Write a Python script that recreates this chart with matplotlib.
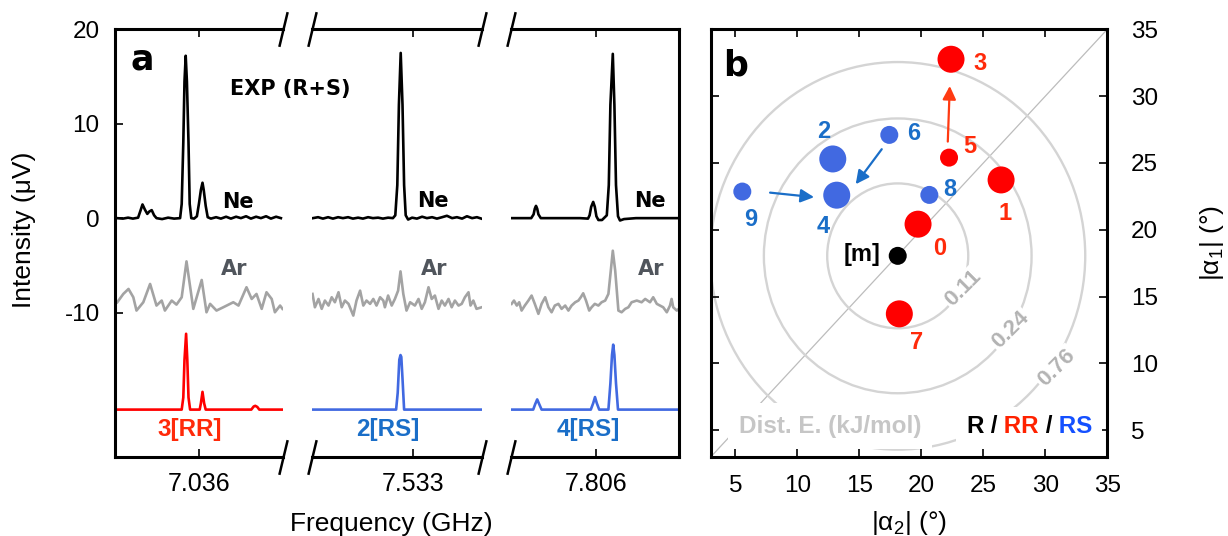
import numpy as np
import matplotlib.pyplot as plt
from matplotlib.patches import Ellipse, Rectangle

plt.rcParams['font.family'] = ['Liberation Sans', 'DejaVu Sans']
plt.rcParams['axes.unicode_minus'] = False
plt.rcParams['mathtext.fontset'] = 'custom'
plt.rcParams['mathtext.rm'] = 'Liberation Sans'
plt.rcParams['mathtext.it'] = 'Liberation Sans:italic'

# ---- panel a data: x is MHz away from the labelled tick of each window ----
seg_ticks = ['7.036', '7.533', '7.806']

ne_x1 = [-2.06, -1.91, -1.78, -1.66, -1.53, -1.47, -1.42, -1.36, -1.30, -1.25, -1.19, -1.13,
         -1.07, -0.93, -0.78, -0.63, -0.48, -0.44, -0.40, -0.37, -0.34, -0.31, -0.27, -0.24,
         -0.20, -0.13, -0.06, -0.01, 0.04, 0.08, 0.11, 0.16, 0.21, 0.29, 0.42, 0.54, 0.67,
         0.79, 0.92, 1.04, 1.17, 1.29, 1.42, 1.54, 1.67, 1.79, 1.92, 2.04]
ne_y1 = [0.0, -0.05, 0.05, -0.05, 0.05, 0.8, 1.45, 0.9, 0.45, 0.7, 0.85, 0.3,
         0.0, -0.1, 0.05, -0.05, 0.0, 1.5, 8.0, 14.5, 17.2, 14.5, 8.0, 1.5,
         0.0, -0.05, 0.2, 1.5, 3.0, 3.75, 3.0, 1.3, 0.1, -0.05, 0.1, -0.05, 0.15,
         -0.05, 0.15, 0.0, 0.2, -0.05, 0.15, 0.0, 0.2, -0.05, 0.15, 0.0]
ne_x2 = [-2.51, -2.38, -2.26, -2.13, -2.01, -1.88, -1.76, -1.63, -1.51, -1.38, -1.26, -1.13,
         -1.01, -0.88, -0.76, -0.63, -0.51, -0.45, -0.40, -0.36, -0.315, -0.27, -0.23, -0.19,
         -0.13, -0.03, 0.09, 0.22, 0.34, 0.47, 0.59, 0.72, 0.84, 0.97, 1.09, 1.22, 1.34,
         1.47, 1.59, 1.70]
ne_y2 = [0.0, 0.1, -0.05, 0.1, -0.05, 0.1, 0.0, 0.1, -0.05, 0.05, -0.05, 0.1,
         0.0, 0.05, -0.05, 0.05, 0.0, 0.3, 3.5, 12.0, 17.5, 12.0, 3.5, 0.3,
         -0.15, 0.05, -0.05, 0.15, 0.0, 0.1, -0.05, 0.1, 0.25, 0.0, 0.1, -0.05, 0.2,
         0.0, 0.1, -0.05]
ne_x3 = [-2.12, -1.80, -1.62, -1.56, -1.53, -1.50, -1.47, -1.44, -1.38, -0.40, -0.20, -0.16,
         -0.12, -0.07, -0.03, 0.01, 0.06, 0.15, 0.27, 0.32, 0.36, 0.42, 0.46, 0.50, 0.55,
         0.60, 0.70, 1.00, 2.07]
ne_y3 = [0.0, 0.0, 0.0, 0.4, 1.0, 1.3, 1.0, 0.4, 0.0, 0.0, -0.05, 0.3,
         1.2, 1.72, 1.2, 0.2, -0.2, -0.2, 0.3, 3.5, 12.0, 17.4, 12.0, 3.5, 0.2,
         -0.25, -0.1, 0.0, 0.0]

ar_x1 = [-2.05, -1.90, -1.77, -1.65, -1.57, -1.40, -1.23, -1.07, -0.94, -0.86, -0.69, -0.57,
         -0.44, -0.32, -0.15, 0.06, 0.18, 0.27, 0.43, 0.60, 0.85, 0.98, 1.18, 1.31, 1.43,
         1.56, 1.68, 1.81, 1.89, 2.02, 2.08]
ar_y1 = [-8.91, -8.03, -7.50, -8.38, -9.79, -8.91, -6.97, -9.26, -8.73, -9.79, -8.73, -9.16,
         -8.38, -4.58, -9.61, -6.55, -9.97, -9.08, -9.79, -9.44, -8.91, -9.26, -7.32, -8.56,
         -8.03, -9.61, -7.85, -8.56, -9.97, -9.26, -9.61]
ar_x2 = [-2.52, -2.46, -2.37, -2.29, -2.21, -2.12, -2.04, -1.96, -1.87, -1.79, -1.71, -1.62,
         -1.50, -1.42, -1.33, -1.25, -1.17, -1.08, -1.00, -0.92, -0.83, -0.75, -0.71, -0.63,
         -0.54, -0.46, -0.38, -0.32, -0.25, -0.17, -0.08, 0.04, 0.13, 0.21, 0.29, 0.38,
         0.46, 0.54, 0.63, 0.71, 0.79, 0.88, 0.96, 1.04, 1.13, 1.21, 1.29, 1.38, 1.43,
         1.50, 1.58, 1.71]
ar_y2 = [-8.03, -9.44, -8.56, -9.61, -8.73, -9.26, -8.38, -8.91, -7.85, -9.44, -8.73, -9.08,
         -10.32, -8.73, -7.68, -9.26, -8.73, -9.08, -8.56, -9.26, -8.38, -8.73, -9.44, -8.20,
         -9.26, -8.56, -7.68, -5.64, -8.03, -9.79, -8.91, -9.26, -8.56, -9.61, -8.91, -7.32,
         -8.56, -8.20, -9.61, -8.73, -9.26, -8.56, -9.44, -8.73, -9.26, -9.08, -8.38, -7.85,
         -9.26, -8.73, -9.61, -9.44]
ar_x3 = [-2.11, -2.05, -1.98, -1.92, -1.86, -1.78, -1.69, -1.61, -1.53, -1.44, -1.36, -1.27,
         -1.19, -1.11, -1.03, -0.94, -0.86, -0.77, -0.69, -0.61, -0.52, -0.44, -0.38, -0.32,
         -0.25, -0.17, -0.11, -0.03, 0.06, 0.14, 0.23, 0.31, 0.37, 0.42, 0.48, 0.56, 0.64,
         0.73, 0.81, 0.89, 1.02, 1.14, 1.23, 1.35, 1.43, 1.52, 1.60, 1.68, 1.77, 1.85,
         1.89, 1.93, 2.02, 2.07]
ar_y3 = [-9.08, -8.73, -9.26, -8.91, -9.79, -9.26, -8.73, -8.20, -9.08, -10.14, -9.08, -8.38,
         -9.44, -9.97, -9.26, -9.08, -9.61, -9.26, -9.79, -9.26, -8.91, -8.73, -8.38, -7.96,
         -8.73, -9.79, -9.44, -9.08, -9.26, -8.91, -8.73, -8.03, -5.56, -3.45, -5.56, -9.79,
         -9.97, -9.61, -9.44, -8.91, -8.73, -8.91, -8.56, -8.91, -8.38, -9.08, -9.26, -9.44,
         -9.97, -9.26, -8.56, -9.44, -9.79, -9.61]

# simulated spectra (offset by -20.3 uV in the figure)
sim_x1 = [-2.07, -0.44, -0.40, -0.37, -0.33, -0.30, -0.27, -0.23, 0.01, 0.04, 0.08, 0.12,
          0.16, 1.30, 1.36, 1.40, 1.45, 1.50, 2.085]
sim_y1 = [-20.28, -20.28, -19.0, -15.0, -12.25, -15.0, -19.0, -20.28, -20.28, -19.6, -18.4,
          -19.6, -20.28, -20.28, -19.95, -19.88, -20.0, -20.28, -20.28]
sim_x2 = [-2.52, -0.43, -0.39, -0.35, -0.32, -0.30, -0.27, -0.23, 1.71]
sim_y2 = [-20.28, -20.28, -18.5, -15.0, -14.5, -14.7, -17.0, -20.28, -20.28]
sim_x3 = [-2.11, -1.57, -1.52, -1.47, -1.42, -1.36, -0.13, -0.07, -0.025, 0.02, 0.08, 0.31,
          0.36, 0.40, 0.43, 0.46, 0.50, 0.55, 2.075]
sim_y3 = [-20.28, -20.28, -19.7, -19.2, -19.7, -20.28, -20.28, -19.6, -18.95, -19.6, -20.28,
          -20.28, -17.5, -14.5, -13.4, -14.5, -17.5, -20.28, -20.28]
sim_names = ['3[RR]', '2[RS]', '4[RS]']

# ---- panel b data ----
rr_names = ['0', '1', '3', '5', '7']
rr_a2 = [19.73, 26.43, 22.39, 22.23, 18.22]
rr_a1 = [20.42, 23.73, 32.76, 25.40, 13.71]
rr_big = [True, True, True, False, True]
rs_names = ['2', '4', '6', '8', '9']
rs_a2 = [12.85, 13.17, 17.41, 20.64, 5.55]
rs_a1 = [25.30, 22.59, 27.10, 22.61, 22.86]
rs_big = [True, True, False, False, False]
m_a2, m_a1 = 18.09, 18.05
dist_levels = ['0.11', '0.24', '0.76']
dist_rx = [5.69, 10.8, 15.13]
dist_ry = [5.42, 10.28, 14.5]

RED = '#ff0000'
BLUE = '#4169e1'
RED_T = '#ff2a0a'
BLUE_T = '#1a6ec8'

fig = plt.figure(figsize=(12.28, 5.36), dpi=100)
bot, hgt = 0.1474, 0.7979

# ---------------- panel a ----------------
seg_pos = [(0.09365, 0.13656), (0.25383, 0.13844), (0.41588, 0.13705)]
seg_xlim = [(-2.1075, 2.085), (-2.54, 1.71), (-2.1325, 2.075)]
ne_x = [ne_x1, ne_x2, ne_x3]
ne_y = [ne_y1, ne_y2, ne_y3]
ar_x = [ar_x1, ar_x2, ar_x3]
ar_y = [ar_y1, ar_y2, ar_y3]
sim_x = [sim_x1, sim_x2, sim_x3]
sim_y = [sim_y1, sim_y2, sim_y3]
sim_col = [RED, BLUE, BLUE]
sim_tcol = [RED_T, BLUE_T, BLUE_T]

ne_lab = [(0.97, 1.72), (0.49, 1.83), (1.35, 1.83)]
ar_lab = [(0.88, -5.35), (0.53, -5.35), (1.39, -5.35)]
sim_lab = [-0.245, -0.63, -0.2]

axs = []
for i in range(3):
    l, w = seg_pos[i]
    ax = fig.add_axes([l, bot, w, hgt])
    axs.append(ax)
    ax.plot(ar_x[i], ar_y[i], color='#a3a3a3', lw=1.9, solid_joinstyle='round')
    ax.plot(ne_x[i], ne_y[i], color='black', lw=1.9, solid_joinstyle='round')
    ax.plot(sim_x[i], sim_y[i], color=sim_col[i], lw=1.9, solid_joinstyle='round')
    ax.set_xlim(seg_xlim[i])
    ax.set_ylim(-25.3, 20)
    ax.set_xticks([0])
    ax.set_xticklabels([seg_ticks[i]])
    ax.tick_params(axis='x', direction='in', top=True, bottom=True, length=6, width=1.2,
                   labelsize=18, pad=11)
    for s in ax.spines.values():
        s.set_linewidth(2.2)
    ax.text(ne_lab[i][0], ne_lab[i][1], 'Ne', family='DejaVu Sans', weight='bold',
            fontsize=15, ha='center', va='center')
    ax.text(ar_lab[i][0], ar_lab[i][1], 'Ar', family='DejaVu Sans', weight='bold',
            fontsize=15, ha='center', va='center', color='#50555c')
    ax.text(sim_lab[i], -22.36, sim_names[i], weight='bold', fontsize=17.5,
            ha='center', va='center', color=sim_tcol[i])

    brk = dict(marker=[(-0.24, -1), (0.24, 1)], markersize=25, linestyle='none',
               color='k', mec='k', mew=1.8, clip_on=False, transform=ax.transAxes)
    ends = []
    if i > 0:
        ax.spines['left'].set_visible(False)
        ax.tick_params(axis='y', left=False, labelleft=False)
        ends.append(0)
    if i < 2:
        ax.spines['right'].set_visible(False)
        ends.append(1)
    for e in ends:
        ax.plot([e, e], [0, 1], **brk)

axs[0].set_yticks([-10, 0, 10, 20])
axs[0].set_yticklabels(['-10', '0', '10', '20'])
axs[0].tick_params(axis='y', direction='in', length=6, width=1.2, labelsize=17.5, pad=11)
axs[0].text(-1.73, 15.77, 'a', family='DejaVu Sans', weight='bold', fontsize=25,
            ha='left', va='baseline')

fig.text(290 / 1228, 1 - 89 / 536, 'EXP (R+S)', family='DejaVu Sans', weight='bold',
         fontsize=15, ha='center', va='center')
fig.text(24 / 1228, 1 - 230 / 536, 'Intensity (μV)', rotation=90, fontsize=19,
         ha='center', va='center')
fig.text(391 / 1228, 1 - 531 / 536, 'Frequency (GHz)', fontsize=19, ha='center',
         va='baseline')

# ---------------- panel b ----------------
axb = fig.add_axes([0.57875, bot, 0.32296, hgt])
axb.set_xlim(3, 35)
axb.set_ylim(3, 35)
axb.plot([3, 35], [3, 35], color='#bcbcbc', lw=0.9, zorder=1)
for rx, ry in zip(dist_rx, dist_ry):
    axb.add_patch(Ellipse((m_a2, m_a1), 2 * rx, 2 * ry, fill=False, ec='#d4d4d4',
                          lw=1.7, zorder=1))
lvl_pos = [(23.39, 15.64), (27.16, 12.52), (30.93, 9.65)]
for lab, (x, y) in zip(dist_levels, lvl_pos):
    axb.text(x, y, lab, rotation=45, color='#b3b3b3', weight='bold', fontsize=16,
             ha='center', va='center', zorder=2,
             bbox=dict(fc='white', ec='none', pad=1.5))

axb.text(12.63, 4.82, 'Dist. E. (kJ/mol)', color='#c6c6c6', weight='bold',
         fontsize=17.5, ha='center', va='baseline', zorder=2,
         bbox=dict(fc='white', ec='none', pad=8))

# legend-like coloured text on a white patch
leg_parts = [('R', 'black'), (' /', 'black'), (' RR', '#ff2200'), (' /', 'black'),
             (' RS', '#1450ff')]
prev = axb.text(23.61, 4.82, leg_parts[0][0], color=leg_parts[0][1], weight='bold',
                fontsize=17.5, ha='left', va='baseline', zorder=3)
pieces = [prev]
for p, c in leg_parts[1:]:
    prev = axb.annotate(p, xy=(1, 0), xycoords=prev, color=c, weight='bold',
                        fontsize=17.5, ha='left', va='bottom', zorder=3)
    pieces.append(prev)
fig.canvas.draw()
rend = fig.canvas.get_renderer()
ext = [t.get_window_extent(rend) for t in pieces]
px0 = min(b.x0 for b in ext) - 10
px1 = max(b.x1 for b in ext) + 10
py0 = min(b.y0 for b in ext) - 8
py1 = max(b.y1 for b in ext) + 8
inv = axb.transData.inverted()
(dx0, dy0), (dx1, dy1) = inv.transform([(px0, py0), (px1, py1)])
axb.add_patch(Rectangle((dx0, dy0), dx1 - dx0, dy1 - dy0, fc='white', ec='none',
                        zorder=2))

# arrows
arw = dict(arrowstyle='-|>', lw=1.6, mutation_scale=20, shrinkA=0, shrinkB=0)
axb.annotate('', xy=(22.29, 30.76), xytext=(22.13, 26.60),
             arrowprops=dict(color='#ff3a12', **arw), zorder=3)
axb.annotate('', xy=(14.70, 23.41), xytext=(16.80, 26.03),
             arrowprops=dict(color=BLUE_T, **arw), zorder=3)
axb.annotate('', xy=(11.34, 22.44), xytext=(7.79, 22.78),
             arrowprops=dict(color=BLUE_T, **arw), zorder=3)

axb.scatter(rr_a2, rr_a1, s=[378 if b else 168 for b in rr_big], color=RED,
            edgecolors='none', zorder=4)
axb.scatter(rs_a2, rs_a1, s=[378 if b else 168 for b in rs_big], color=BLUE,
            edgecolors='none', zorder=4)
axb.scatter([m_a2], [m_a1], s=168, color='black', edgecolors='none', zorder=4)

rr_lab = [(21.48, 18.60), (26.75, 21.24), (24.71, 32.46), (23.90, 26.22), (19.65, 11.58)]
rs_lab = [(12.09, 27.37), (12.09, 20.24), (19.35, 27.22), (22.29, 22.98), (6.25, 20.74)]
for n, (x, y) in zip(rr_names, rr_lab):
    axb.text(x, y, n, color=RED_T, weight='bold', fontsize=17, ha='center', va='center')
for n, (x, y) in zip(rs_names, rs_lab):
    axb.text(x, y, n, color=BLUE_T, weight='bold', fontsize=17, ha='center', va='center')
axb.text(16.66, 18.13, '[m]', color='black', weight='bold', fontsize=17, ha='right',
         va='center')
axb.text(4.02, 31.51, 'b', family='DejaVu Sans', weight='bold', fontsize=25,
         ha='left', va='baseline')

axb.set_xticks(range(5, 36, 5))
axb.set_yticks(range(5, 36, 5))
axb.tick_params(direction='in', top=True, bottom=True, left=True, right=True,
                labelleft=False, labelright=True, length=6, width=1.2, labelsize=17.5)
axb.tick_params(axis='x', pad=13)
axb.tick_params(axis='y', pad=17)
for s in axb.spines.values():
    s.set_linewidth(2.2)

fig.text(909 / 1228, 1 - 530 / 536, '|α$_2$| (°)', fontsize=19, ha='center',
         va='baseline')
fig.text(1212 / 1228, 1 - 243 / 536, '|α$_1$| (°)', fontsize=19, rotation=90,
         ha='center', va='center')

fig.savefig('out.png', dpi=100)
